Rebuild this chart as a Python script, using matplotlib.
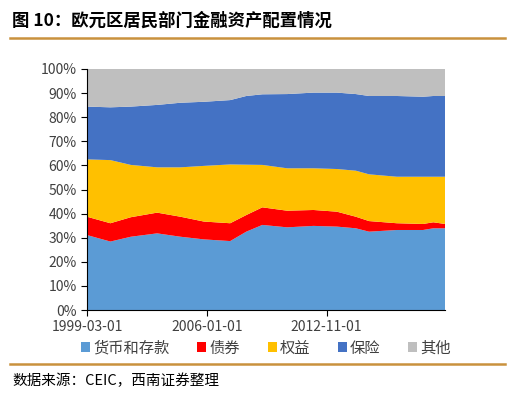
import numpy as np
import matplotlib.pyplot as plt
import matplotlib.ticker as mticker

plt.rcParams['font.family'] = ['Noto Sans CJK SC', 'DejaVu Sans']

# months since 1999-03-01
months = [0, 16, 30, 48, 64, 80, 98, 109, 120, 137, 155, 171, 184, 193, 212, 230, 237, 245]
# cumulative tops (%)
top_cash = [31.1, 28.4, 30.4, 31.8, 30.4, 29.3, 28.6, 32.5, 35.3, 34.3, 34.9, 34.6, 33.9, 32.5, 33.2, 33.2, 33.9, 33.9]
top_bond = [38.7, 36.0, 38.5, 40.4, 38.7, 36.7, 36.0, 39.4, 42.6, 41.2, 41.5, 40.8, 38.7, 36.9, 36.0, 35.7, 36.4, 35.7]
top_equity = [62.5, 62.2, 60.2, 59.2, 59.2, 59.8, 60.4, 60.3, 60.2, 58.8, 58.8, 58.5, 57.8, 56.3, 55.3, 55.3, 55.3, 55.3]
top_ins = [84.4, 84.1, 84.4, 85.1, 86.0, 86.4, 87.1, 88.8, 89.5, 89.6, 90.2, 90.2, 89.6, 88.8, 88.8, 88.5, 88.8, 88.8]

cash = np.array(top_cash)
bond = np.array(top_bond) - cash
equity = np.array(top_equity) - np.array(top_bond)
ins = np.array(top_ins) - np.array(top_equity)
other = 100 - np.array(top_ins)

labels = ['货币和存款', '债券', '权益', '保险', '其他']
colors = ['#5B9BD5', '#FF0000', '#FFC000', '#4472C4', '#BFBFBF']
tick_pos = [0, 82, 164]
tick_labels = ['1999-03-01', '2006-01-01', '2012-11-01']
gold = '#C9913D'
grey = '#404040'

fig = plt.figure(figsize=(5.13, 4.03), dpi=100)
fig.text(12 / 513, 1 - 21 / 403, '图 10：欧元区居民部门金融资产配置情况', fontsize=12.5,
         fontweight='bold', va='center')
fig.add_artist(plt.Line2D([10 / 513, 505 / 513], [1 - 37.5 / 403] * 2, color=gold, lw=1.8))

ax = fig.add_axes([87 / 513, 1 - 310 / 403, (445 - 87) / 513, (310 - 69) / 403])
ax.stackplot(months, cash, bond, equity, ins, other, colors=colors, labels=labels)
ax.set_xlim(0, 245)
ax.set_ylim(0, 100)
ax.yaxis.set_major_locator(mticker.MultipleLocator(10))
ax.yaxis.set_major_formatter(mticker.PercentFormatter(decimals=0))
ax.set_xticks(tick_pos)
ax.set_xticklabels(tick_labels)
ax.tick_params(labelsize=10, length=4, labelcolor=grey)
for s in ['top', 'right']:
    ax.spines[s].set_visible(False)

leg = ax.legend(loc='center', bbox_to_anchor=(0.5, (310 - 348) / 241), ncol=5, frameon=False,
                fontsize=11, handlelength=0.6, handleheight=0.6, columnspacing=1.8, handletextpad=0.2)
for t in leg.get_texts():
    t.set_color(grey)

fig.add_artist(plt.Line2D([10 / 513, 505 / 513], [1 - 363.5 / 403] * 2, color=gold, lw=1.8))
fig.text(12 / 513, 1 - 381 / 403, '数据来源：CEIC，西南证券整理', fontsize=10.5, style='italic', va='center')

fig.savefig('out.png', dpi=100)
